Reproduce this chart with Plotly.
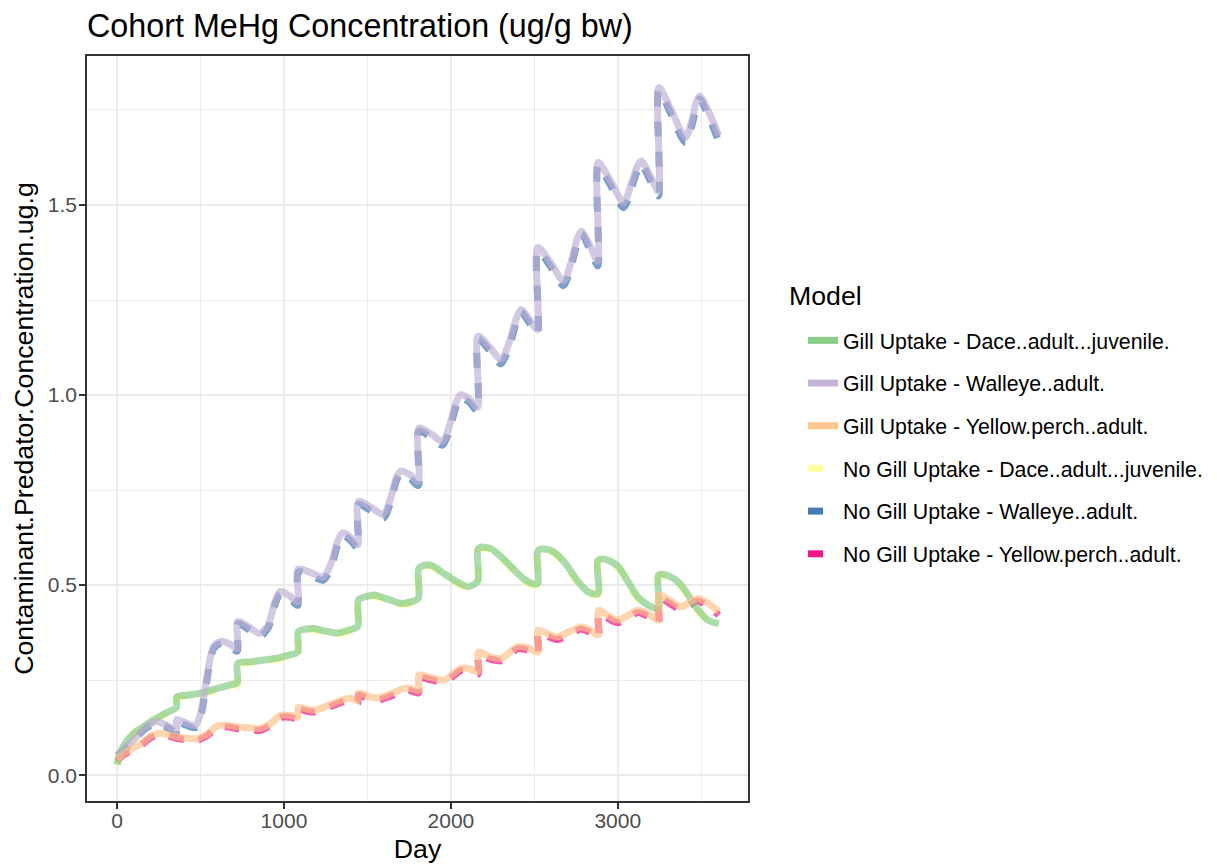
import plotly.graph_objects as go

# ---- data: cohort MeHg concentration (ug/g bw) by simulation day ----
walleye_day = [0, 50, 110, 170, 230, 290, 355, 358, 410, 470, 505, 540, 580, 625, 675, 720,
               723, 790, 855, 905, 945, 978, 1030, 1083,
               1086, 1160, 1235, 1285, 1325, 1355, 1400, 1443,
               1446, 1520, 1595, 1640, 1675, 1700, 1755, 1805,
               1808, 1880, 1950, 1995, 2035, 2060, 2110, 2160,
               2163, 2235, 2300, 2350, 2395, 2420, 2470, 2518,
               2521, 2595, 2675, 2720, 2760, 2782, 2832, 2880,
               2883, 2955, 3035, 3080, 3118, 3140, 3192, 3243,
               3246, 3320, 3405, 3445, 3470, 3490, 3545, 3605]
walleye_gill = [0.052, 0.070, 0.098, 0.125, 0.141, 0.133, 0.119, 0.146, 0.138, 0.131, 0.170, 0.262, 0.340, 0.352, 0.345, 0.333,
                0.404, 0.390, 0.373, 0.395, 0.455, 0.483, 0.473, 0.455,
                0.542, 0.533, 0.522, 0.560, 0.620, 0.638, 0.625, 0.606,
                0.720, 0.705, 0.686, 0.730, 0.785, 0.800, 0.790, 0.772,
                0.913, 0.898, 0.878, 0.925, 0.985, 1.001, 0.990, 0.968,
                1.155, 1.125, 1.093, 1.140, 1.205, 1.225, 1.200, 1.172,
                1.388, 1.350, 1.300, 1.350, 1.415, 1.431, 1.395, 1.352,
                1.612, 1.565, 1.506, 1.555, 1.603, 1.616, 1.578, 1.537,
                1.809, 1.750, 1.678, 1.725, 1.770, 1.787, 1.745, 1.682]
walleye_nogill = [0.052, 0.069, 0.096, 0.122, 0.137, 0.128, 0.113, 0.141, 0.132, 0.125, 0.163, 0.255, 0.334, 0.347, 0.339, 0.326,
                  0.398, 0.383, 0.365, 0.387, 0.447, 0.477, 0.466, 0.447,
                  0.535, 0.525, 0.513, 0.551, 0.611, 0.631, 0.617, 0.597,
                  0.712, 0.696, 0.676, 0.720, 0.776, 0.793, 0.781, 0.762,
                  0.905, 0.889, 0.868, 0.915, 0.975, 0.994, 0.981, 0.958,
                  1.147, 1.115, 1.082, 1.129, 1.195, 1.218, 1.190, 1.161,
                  1.380, 1.339, 1.288, 1.338, 1.404, 1.424, 1.384, 1.340,
                  1.604, 1.553, 1.493, 1.542, 1.592, 1.608, 1.566, 1.524,
                  1.801, 1.738, 1.664, 1.711, 1.758, 1.779, 1.732, 1.666]

dace_day = [0, 15, 40, 100, 160, 220, 290, 355, 358, 420, 500, 600, 680, 720,
            723, 800, 880, 960, 1040, 1083,
            1086, 1130, 1180, 1250, 1320, 1400, 1443,
            1446, 1495, 1540, 1620, 1700, 1760, 1805,
            1808, 1850, 1890, 1960, 2020, 2100, 2140, 2163,
            2166, 2235, 2300, 2380, 2450, 2500, 2521,
            2524, 2595, 2650, 2700, 2760, 2820, 2880,
            2883, 2940, 3000, 3060, 3120, 3200, 3243,
            3246, 3310, 3370, 3420, 3460, 3540, 3605]
dace_gill = [0.028, 0.055, 0.078, 0.110, 0.128, 0.146, 0.163, 0.178, 0.206, 0.210, 0.216, 0.228, 0.238, 0.243,
             0.294, 0.298, 0.303, 0.308, 0.317, 0.324,
             0.377, 0.384, 0.386, 0.379, 0.374, 0.383, 0.392,
             0.461, 0.470, 0.474, 0.463, 0.452, 0.456, 0.466,
             0.544, 0.553, 0.551, 0.530, 0.513, 0.496, 0.502, 0.513,
             0.597, 0.597, 0.575, 0.540, 0.512, 0.503, 0.505,
             0.592, 0.592, 0.575, 0.549, 0.510, 0.483, 0.478,
             0.566, 0.566, 0.550, 0.510, 0.469, 0.443, 0.439,
             0.527, 0.523, 0.505, 0.475, 0.447, 0.408, 0.399]
dace_nogill = [0.027, 0.052, 0.075, 0.107, 0.125, 0.143, 0.160, 0.175, 0.203, 0.206, 0.212, 0.224, 0.234, 0.239,
               0.290, 0.294, 0.299, 0.304, 0.313, 0.320,
               0.373, 0.380, 0.382, 0.375, 0.370, 0.379, 0.388,
               0.457, 0.466, 0.470, 0.459, 0.448, 0.452, 0.462,
               0.540, 0.549, 0.547, 0.526, 0.509, 0.492, 0.498, 0.509,
               0.593, 0.593, 0.571, 0.536, 0.508, 0.499, 0.501,
               0.588, 0.588, 0.571, 0.545, 0.506, 0.479, 0.474,
               0.562, 0.562, 0.546, 0.506, 0.465, 0.439, 0.435,
               0.523, 0.519, 0.501, 0.471, 0.443, 0.404, 0.395]

perch_day = [0, 40, 100, 150, 200, 245, 300, 355, 420, 480, 540, 600, 660, 720,
             790, 860, 920, 980, 1040, 1083,
             1086, 1140, 1180, 1230, 1280, 1340, 1400, 1443,
             1446, 1510, 1560, 1640, 1720, 1760, 1805,
             1808, 1860, 1960, 2010, 2060, 2110, 2163,
             2166, 2230, 2300, 2350, 2400, 2460, 2521,
             2524, 2580, 2640, 2720, 2780, 2830, 2883,
             2886, 2940, 3000, 3060, 3120, 3180, 3243,
             3246, 3310, 3380, 3430, 3478, 3540, 3605]
perch_gill = [0.040, 0.057, 0.072, 0.085, 0.102, 0.110, 0.108, 0.101, 0.097, 0.096, 0.108, 0.130, 0.131, 0.127,
              0.125, 0.123, 0.136, 0.157, 0.157, 0.153,
              0.178, 0.173, 0.171, 0.177, 0.186, 0.196, 0.202, 0.196,
              0.216, 0.207, 0.203, 0.214, 0.228, 0.228, 0.222,
              0.263, 0.259, 0.250, 0.265, 0.281, 0.280, 0.272,
              0.324, 0.312, 0.307, 0.322, 0.338, 0.335, 0.324,
              0.382, 0.372, 0.364, 0.380, 0.390, 0.383, 0.368,
              0.434, 0.420, 0.408, 0.420, 0.434, 0.425, 0.408,
              0.474, 0.460, 0.443, 0.455, 0.465, 0.452, 0.430]
perch_nogill = [0.038, 0.054, 0.069, 0.081, 0.098, 0.106, 0.104, 0.097, 0.093, 0.092, 0.104, 0.126, 0.127, 0.122,
                0.120, 0.118, 0.131, 0.152, 0.152, 0.148,
                0.173, 0.168, 0.166, 0.172, 0.181, 0.191, 0.197, 0.190,
                0.210, 0.201, 0.197, 0.208, 0.222, 0.222, 0.216,
                0.257, 0.253, 0.244, 0.259, 0.275, 0.274, 0.266,
                0.318, 0.306, 0.301, 0.316, 0.332, 0.329, 0.317,
                0.376, 0.365, 0.357, 0.373, 0.384, 0.376, 0.361,
                0.427, 0.413, 0.401, 0.413, 0.428, 0.418, 0.400,
                0.467, 0.452, 0.435, 0.447, 0.458, 0.444, 0.421]

model_names = ["Gill Uptake - Dace..adult...juvenile.",
               "Gill Uptake - Walleye..adult.",
               "Gill Uptake - Yellow.perch..adult.",
               "No Gill Uptake - Dace..adult...juvenile.",
               "No Gill Uptake - Walleye..adult.",
               "No Gill Uptake - Yellow.perch..adult."]
model_colors = ["#7FC97F", "#BEAED4", "#FDC086", "#FFFF99", "#386CB0", "#F0027F"]

x_ticks = [0, 1000, 2000, 3000]
y_ticks = [0.0, 0.5, 1.0, 1.5]
y_tick_text = ["0.0", "0.5", "1.0", "1.5"]

FONT = "Liberation Sans, Arial, sans-serif"
LINE_W = 7
DASH = "15px,15px"
W, H = 1217, 865
L, R, T, B = 87, 469, 56, 64
plot_h = H - T - B
plot_w = W - L - R

series = [
    (dace_day, dace_gill, 0), (walleye_day, walleye_gill, 1), (perch_day, perch_gill, 2),
    (dace_day, dace_nogill, 3), (walleye_day, walleye_nogill, 4), (perch_day, perch_nogill, 5),
]

fig = go.Figure()

# dashed (no gill) lines underneath, solid (gill) lines on top
for idx in [3, 4, 5, 0, 1, 2]:
    xs, ys, k = series[idx]
    fig.add_trace(go.Scatter(
        x=xs, y=ys, mode="lines", showlegend=False, opacity=0.66,
        line=dict(color=model_colors[k], width=LINE_W, shape="spline", smoothing=0.8,
                  dash="solid" if k < 3 else DASH),
        hoverinfo="skip",
    ))

# legend keys
for k, name in enumerate(model_names):
    fig.add_trace(go.Scatter(
        x=[None], y=[None], mode="lines", name=name, legendgroup=name,
        opacity=0.92,
        line=dict(color=model_colors[k], width=LINE_W, dash="solid" if k < 3 else DASH),
    ))

axis_common = dict(
    showline=True, linecolor="#333333", linewidth=1.6, mirror=True,
    ticks="outside", ticklen=6, tickwidth=1.6, tickcolor="#333333",
    showgrid=True, gridcolor="#EBEBEB", gridwidth=2, zeroline=False, automargin=False,
    tickfont=dict(family=FONT, size=21, color="#4D4D4D"),
)

fig.update_layout(
    width=W, height=H,
    margin=dict(l=L, r=R, t=T, b=B, autoexpand=False),
    paper_bgcolor="white", plot_bgcolor="white",
    font=dict(family=FONT, color="black"),
    title=dict(text="Cohort MeHg Concentration (ug/g bw)", font=dict(family=FONT, size=32.3, color="black"),
               x=87 / W, xanchor="left", xref="container",
               y=1 - 26 / H, yanchor="middle", yref="container"),
    xaxis=dict(range=[-180, 3780], tickvals=x_ticks, ticklabelstandoff=-6,
               title=dict(text="Day", font=dict(family=FONT, size=26.7, color="black"), standoff=8),
               minor=dict(tickvals=[500, 1500, 2500, 3500], showgrid=True, gridcolor="#EBEBEB",
                          gridwidth=1, ticks=""),
               **axis_common),
    yaxis=dict(range=[-0.068, 1.892], tickvals=y_ticks, ticktext=y_tick_text, ticklabelstandoff=-2,
               title=dict(text="Contaminant.Predator.Concentration.ug.g",
                          font=dict(family=FONT, size=26.7, color="black"), standoff=6),
               minor=dict(tickvals=[0.25, 0.75, 1.25, 1.75], showgrid=True, gridcolor="#EBEBEB",
                          gridwidth=1, ticks=""),
               **axis_common),
    legend=dict(
        font=dict(family=FONT, size=21.3, color="black"),
        x=(803 - L) / plot_w, xanchor="left", y=(H - B - 320) / plot_h, yanchor="top",
        itemwidth=30, tracegroupgap=12, bgcolor="rgba(0,0,0,0)",
    ),
    annotations=[dict(text="Model", x=(787 - L) / plot_w, xref="paper",
                      y=(H - B - 296) / plot_h, yref="paper", xanchor="left", yanchor="middle",
                      showarrow=False, font=dict(family=FONT, size=26.7, color="black"))],
)

fig.write_html("out.html")
